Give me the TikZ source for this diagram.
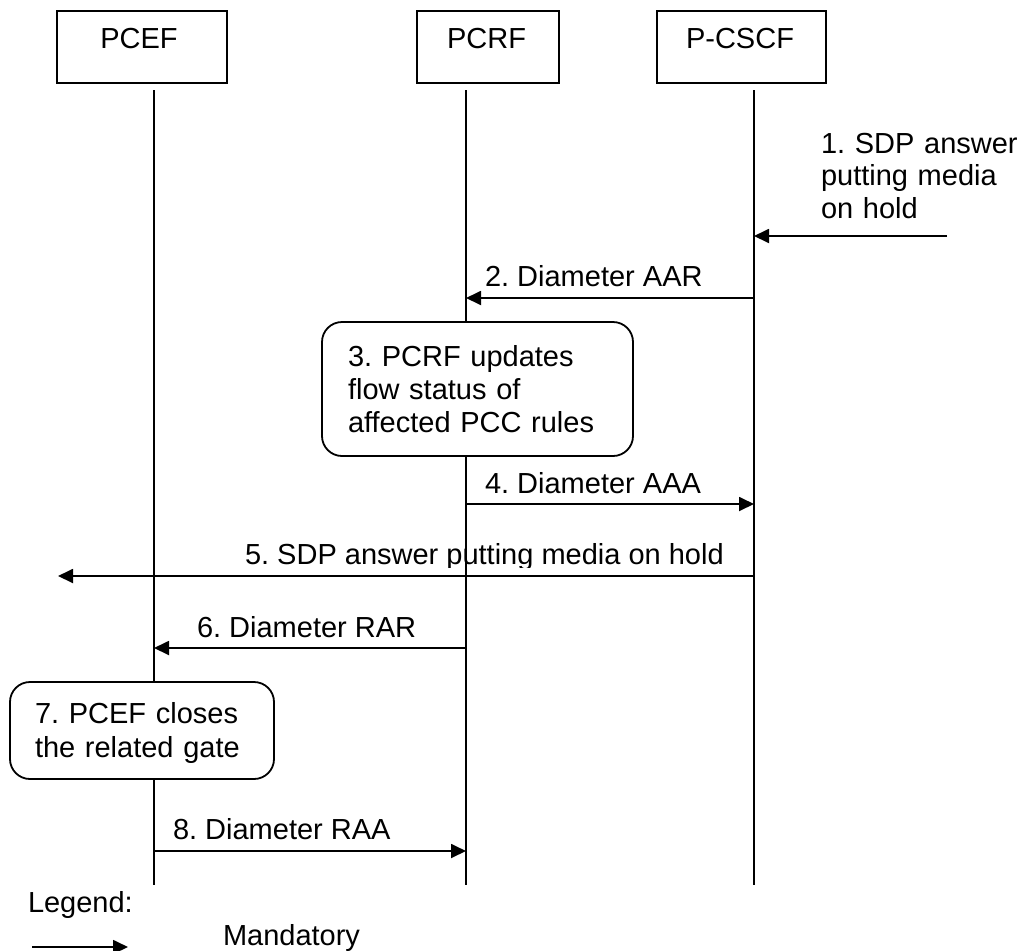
\documentclass[tikz,border=0pt]{standalone}
\usepackage{fontspec}
\setmainfont{Liberation Sans}
\usetikzlibrary{arrows.meta}
\frenchspacing
\tikzset{
  every node/.style={inner sep=0pt, outer sep=0pt},
  txt/.style={font=\fontsize{29pt}{33pt}\selectfont\frenchspacing, align=left, anchor=base west},
  mtxt/.style={txt, text width=#1},
  lbl/.style={font=\fontsize{29pt}{33pt}\selectfont, anchor=base},
  ent/.style={draw, line width=1.8pt, minimum height=72pt},
  life/.style={line width=1.8pt},
  msg/.style={line width=1.8pt, -{Triangle[length=15pt,width=14pt]}},
  proc/.style={draw, fill=white, rounded corners=20pt, line width=1.8pt},
}
\begin{document}
\begin{tikzpicture}[x=1pt,y=-1pt]
\useasboundingbox (0,0) rectangle (1018,951);

% entity boxes
\node[ent, minimum width=170pt] (pcefbox) at (142,47) {};
\node[ent, minimum width=142pt] (pcrfbox) at (488,47) {};
\node[ent, minimum width=169pt] (pcscfbox) at (741.5,47) {};
\node[lbl] (pceft) at (139,48) {PCEF};
\node[lbl] (pcrft) at (486.5,48) {PCRF};
\node[lbl] (pcscft) at (740,48) {P-CSCF};

% lifelines
\coordinate (pcefT) at (154,90);  \coordinate (pcefB) at (154,885);
\coordinate (pcrfT) at (466,90);  \coordinate (pcrfB) at (466,885);
\coordinate (pcscfT) at (754,90); \coordinate (pcscfB) at (754,885);
\draw[life] (pcefT) -- (pcefB);
\draw[life] (pcrfT) -- (pcrfB);
\draw[life] (pcscfT) -- (pcscfB);

% 1
\coordinate (m1s) at (947,236); \coordinate (m1e) at (754,236);
\draw[msg] (m1s) -- (m1e);
\node[mtxt=400pt, font=\fontsize{29pt}{32.5pt}\selectfont\frenchspacing] (t1) at (821,153) {1. SDP answer\\putting media\\on hold};

% 2
\coordinate (m2s) at (754,298); \coordinate (m2e) at (466,298);
\draw[msg] (m2s) -- (m2e);
\node[txt] (t2) at (485,286) {2. Diameter AAR};

% 3
\node[proc, minimum width=311pt, minimum height=134pt] (s3) at (477.5,389) {};
\node[mtxt=400pt] (t3) at (348,366) {3. PCRF updates\\flow status of\\affected PCC rules};

% 4
\coordinate (m4s) at (466,504); \coordinate (m4e) at (754,504);
\draw[msg] (m4s) -- (m4e);
\node[txt] (t4) at (485,493) {4. Diameter AAA};

% 5
\coordinate (m5s) at (754,576); \coordinate (m5e) at (58,576);
\begin{scope}
\clip (0,520) rectangle (1018,567);
\node[txt] (t5) at (245,564) {5. SDP answer putting media on hold};
\end{scope}
\draw[msg] (m5s) -- (m5e);

% 6
\coordinate (m6s) at (466,648); \coordinate (m6e) at (154,648);
\draw[msg] (m6s) -- (m6e);
\node[txt] (t6) at (197,637) {6. Diameter RAR};

% 7
\node[proc, minimum width=264pt, minimum height=97pt] (s7) at (142,730.5) {};
\node[mtxt=400pt, font=\fontsize{29pt}{34pt}\selectfont\frenchspacing] (t7) at (35,723) {7. PCEF closes\\the related gate};

% 8
\coordinate (m8s) at (154,851); \coordinate (m8e) at (466,851);
\draw[msg] (m8s) -- (m8e);
\node[txt] (t8) at (173,839) {8. Diameter RAA};

% legend
\node[txt] (leg) at (28,912) {Legend:};
\coordinate (lg1) at (32,947); \coordinate (lg2) at (128,947);
\draw[msg] (lg1) -- (lg2);
\node[txt] (mand) at (223,945) {Mandatory};
\end{tikzpicture}
\end{document}
